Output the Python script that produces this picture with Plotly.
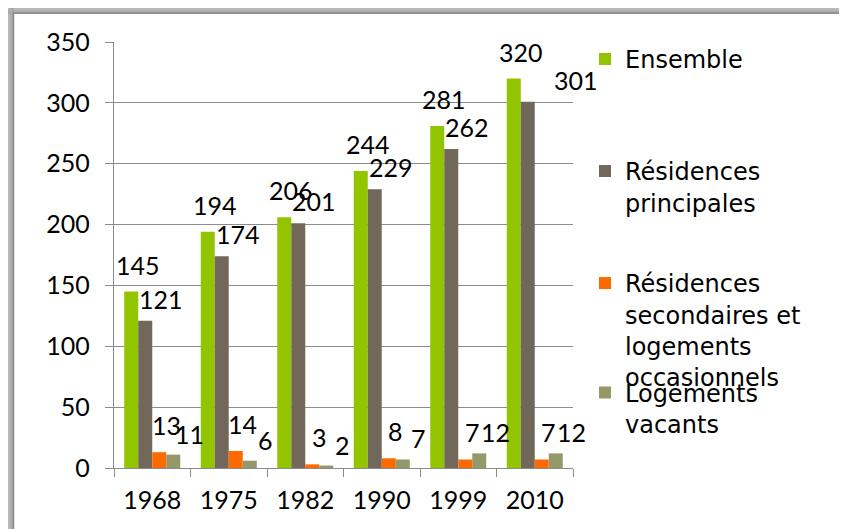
import plotly.graph_objects as go

# ---------------- data ----------------
years = ["1968", "1975", "1982", "1990", "1999", "2010"]
ensemble = [145, 194, 206, 244, 281, 320]
principales = [121, 174, 201, 229, 262, 301]
secondaires = [13, 14, 3, 8, 7, 7]
vacants = [11, 6, 2, 7, 12, 12]
series_names = [
    "Ensemble",
    "Résidences<br>principales",
    "Résidences<br>secondaires et<br>logements<br>occasionnels",
    "Logements<br>vacants",
]
y_ticks = [0, 50, 100, 150, 200, 250, 300, 350]

# ---------------- style ----------------
colors = ["#93C400", "#72685A", "#FF6A00", "#959868"]
label_xshift = [7, 16, 7, 16]          # per-series nudge of value labels (px)
label_yshift = [10, 5, 10, 4]
special_nudge = {(1, 5): (32, 0)}      # (series, category) -> extra (dx, dy)
legend_tops = [1.012, 0.749, 0.486, 0.229]
NUM_FONT = "Lato"
TXT_FONT = "DejaVu Sans"

OFF = 8                                # page body margin
W, H = 847, 529
L, T = 114 - OFF, 42 - OFF
PW, PH = 459, 426
R, B = W - L - PW, H - T - PH
BARGAP = 0.268


def px_x(px):
    """page pixel -> paper x"""
    return (px - OFF - L) / PW


def px_y(py):
    """page pixel -> paper y"""
    return (H - B - (py - OFF)) / PH


series_values = [ensemble, principales, secondaires, vacants]

fig = go.Figure()
for k, (name, vals) in enumerate(zip(series_names, series_values)):
    fig.add_trace(go.Bar(
        x=years, y=vals, name=name,
        marker=dict(color=colors[k], line=dict(width=0)),
        legend="legend" if k == 0 else f"legend{k + 1}",
        hoverinfo="x+y+name",
    ))

# value labels, placed from the data through the axis scale
bw = (1 - BARGAP) / len(series_values)
annotations = []
for k, vals in enumerate(series_values):
    for i, v in enumerate(vals):
        dx, dy = special_nudge.get((k, i), (0, 0))
        annotations.append(dict(
            x=i + (k - (len(series_values) - 1) / 2) * bw, y=v,
            xref="x", yref="y", text=str(v), showarrow=False,
            xanchor="center", yanchor="bottom",
            xshift=label_xshift[k] + dx, yshift=label_yshift[k] + dy,
            font=dict(family=NUM_FONT, size=25, color="#000000"),
        ))

# frame with soft shadow on top / left
shapes = []
n = 7
for j in range(n):
    g = int(225 - j * 10)
    col = f"rgb({g},{g},{g})"
    shapes.append(dict(type="rect", xref="paper", yref="paper",
                       x0=px_x(0), x1=px_x(W + 20), y0=px_y(j * 2), y1=px_y(j * 2 + 2),
                       fillcolor=col, line=dict(width=0), layer="below"))
    shapes.append(dict(type="rect", xref="paper", yref="paper",
                       x0=px_x(j * 2), x1=px_x(j * 2 + 2), y0=px_y(H + 20), y1=px_y(0),
                       fillcolor=col, line=dict(width=0), layer="below"))
shapes.append(dict(type="line", xref="paper", yref="paper",
                   x0=px_x(13.5), x1=px_x(W + 20), y0=px_y(13), y1=px_y(13),
                   line=dict(color="#8a8a8a", width=1.5)))
shapes.append(dict(type="line", xref="paper", yref="paper",
                   x0=px_x(13.5), x1=px_x(13.5), y0=px_y(13), y1=px_y(H + 20),
                   line=dict(color="#8a8a8a", width=1.5)))

layout_legends = {}
for k in range(4):
    key = "legend" if k == 0 else f"legend{k + 1}"
    layout_legends[key] = dict(
        x=px_x(585), y=legend_tops[k], xanchor="left", yanchor="top",
        bgcolor="rgba(0,0,0,0)", borderwidth=0, valign="top",
        font=dict(family=TXT_FONT, size=24, color="#000000"),
        itemclick=False, itemdoubleclick=False,
    )

fig.update_layout(
    width=W, height=H,
    margin=dict(l=L, r=R, t=T, b=B, pad=0, autoexpand=False),
    paper_bgcolor="white", plot_bgcolor="white",
    barmode="group", bargap=BARGAP, bargroupgap=0,
    showlegend=True,
    xaxis=dict(
        type="category", range=[-0.5, len(years) - 0.5],
        showgrid=False, showline=True, linecolor="#8c8c8c", linewidth=1.3,
        ticks="outside", tickson="boundaries", ticklen=8, tickcolor="#8c8c8c", tickwidth=1.3,
        tickfont=dict(family=NUM_FONT, size=25, color="#000000"), ticklabelstandoff=10,
        fixedrange=True, automargin=False,
    ),
    yaxis=dict(
        range=[0, 350], tickvals=y_ticks, showgrid=True, gridcolor="#8c8c8c", gridwidth=1.3,
        showline=True, linecolor="#8c8c8c", linewidth=1.3, zeroline=False,
        ticks="outside", ticklen=8, tickcolor="#8c8c8c", tickwidth=1.3,
        tickfont=dict(family=NUM_FONT, size=25, color="#000000"), ticklabelstandoff=10,
        fixedrange=True, automargin=False,
    ),
    annotations=annotations,
    shapes=shapes,
    **layout_legends,
)

fig.write_html("out.html")
